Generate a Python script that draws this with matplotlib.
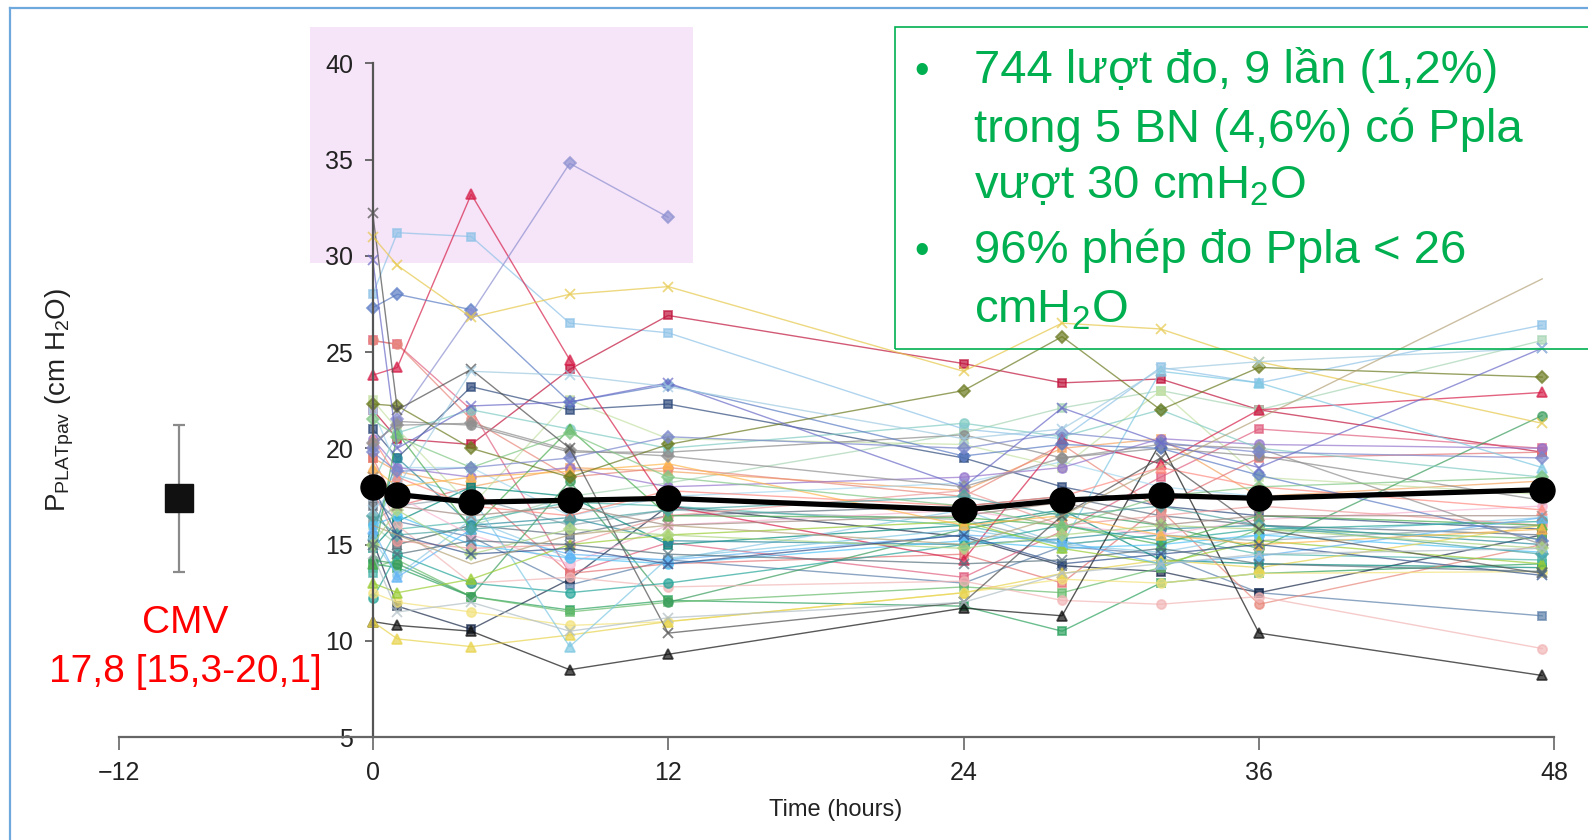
import numpy as np
import matplotlib.pyplot as plt
from matplotlib.patches import Rectangle
from matplotlib.lines import Line2D

plt.rcParams['font.family'] = ['Liberation Sans', 'DejaVu Sans']
plt.rcParams['mathtext.fontset'] = 'custom'
plt.rcParams['mathtext.rm'] = 'Liberation Sans'
plt.rcParams['mathtext.default'] = 'regular'

W, H = 1588, 840

# measurement times (hours) and the mean curve
hours = [0, 1, 4, 8, 12, 24, 28, 32, 36, 47.5]
mean_pplat = [18.0, 17.6, 17.2, 17.3, 17.4, 16.8, 17.3, 17.55, 17.4, 17.85]

# CMV reference point (median and IQR bars)
cmv_x = -7.85
cmv_mid = 17.4
cmv_low = 13.6
cmv_high = 21.2

N = None

# individual patients, grouped by marker shape
squares = [
    [28.0, 31.2, 31.0, 26.5, 26.0, 21.0, 20.5, 24.2, 23.4, 26.4],
    [22.0, 20.5, 20.2, 24.1, 26.9, 24.4, 23.4, 23.6, 22.0, 19.8],
    [21.0, 19.5, 23.2, 22.0, 22.3, 19.5, 18.0, 17.0, 16.5, 15.8],
    [14.0, 13.8, 12.3, 11.6, 12.1, 11.8, 10.5, 13.0, 13.5, 14.0],
    [17.5, 16.2, 15.4, 12.9, 14.2, 13.0, 14.9, 14.5, 12.5, 11.3],
    [15.2, 11.8, 10.6, 13.2, 17.0, 15.4, 13.9, 13.6, 12.5, 15.5],
    [16.0, 15.0, 16.0, 17.5, 18.2, 20.8, 22.1, 23.0, 22.0, 25.6],
    [25.6, 25.4, 22.0, 13.5, 15.1, 13.3, 15.7, 18.5, 21.0, 20.0],
    [19.5, 18.8, 18.0, 19.0, 18.8, 17.8, 20.0, 20.5, 17.5, 18.3],
    [22.0, 19.0, 19.0, 16.5, 17.5, 18.2, 19.3, 18.0, 17.5, 17.8],
    [19.5, 17.0, 18.0, 13.5, 14.0, 14.5, 13.0, 17.0, 19.5, 19.8],
    [17.0, 15.0, 16.0, 15.5, 16.5, 17.0, 17.5, 16.5, 16.0, 15.5],
    [14.8, 16.2, 18.0, 17.5, 15.0, 16.0, 16.8, 14.2, 14.0, 13.8],
    [13.8, 14.2, 12.3, 11.5, 12.0, 12.8, 12.5, 13.8, 15.8, 15.3],
    [16.2, 17.0, 17.5, 16.0, 16.8, 16.3, 15.0, 15.5, 15.2, 16.0],
    [13.5, 15.8, 16.2, 17.2, 17.0, 16.0, 15.0, 15.5, 14.5, 14.2],
    [22.5, 21.0, 17.0, 22.5, 20.5, 20.2, 19.0, 23.0, 18.5, 17.6],
]
square_colors = ['#8fc3e8', '#c0143c', '#2f4b7c', '#2ca25f', '#5b7fa8', '#1a2a4a',
                 '#a8d5b5', '#e06080', '#f4a460', '#a6d8f0', '#e57373', '#5d6d7e',
                 '#00897b', '#66bb6a', '#90a4ae', '#4db6ac', '#c5e1a5']

circles = [
    [25.6, 25.4, 21.5, 18.5, 19.0, 17.5, 20.2, 16.8, 11.9, 15.0],
    [15.3, 13.4, 16.3, 14.3, 14.2, 16.8, 15.0, 14.6, 15.5, 16.4],
    [14.2, 14.0, 12.3, 18.3, 12.0, 15.8, 16.7, 16.0, 14.8, 21.7],
    [15.5, 19.5, 16.0, 16.4, 15.2, 15.0, 15.3, 15.8, 16.0, 15.0],
    [20.1, 21.4, 21.2, 19.8, 19.8, 20.7, 19.5, 20.0, 19.6, 17.3],
    [18.8, 16.0, 13.0, 13.3, 12.8, 13.1, 12.1, 11.9, 12.3, 9.6],
    [18.0, 17.5, 15.5, 14.0, 16.0, 16.8, 16.0, 15.5, 16.3, 17.0],
    [16.0, 16.5, 15.0, 14.3, 14.0, 15.2, 14.8, 15.0, 15.5, 14.6],
    [12.2, 14.5, 13.0, 12.5, 13.0, 15.0, 16.0, 15.2, 15.8, 16.2],
    [12.5, 12.0, 11.5, 10.8, 11.0, 12.5, 13.2, 13.0, 13.5, 13.6],
    [17.8, 15.2, 14.8, 15.0, 16.5, 17.8, 16.0, 16.5, 17.0, 16.0],
    [20.5, 19.0, 18.5, 19.0, 18.0, 18.5, 19.0, 20.5, 20.2, 20.0],
    [18.2, 20.8, 22.0, 21.0, 20.0, 21.3, 20.6, 22.0, 20.0, 18.5],
]
circle_colors = ['#e8877a', '#8ecae6', '#3a9d5d', '#2b8c9e', '#8a8a8a', '#f2b5b5',
                 '#f7b6d2', '#4fc3f7', '#26a69a', '#f3e27a', '#ef9a9a', '#9575cd',
                 '#80cbc4']

triangles = [
    [23.8, 24.2, 33.2, 24.6, 17.0, 14.2, 20.5, 19.2, 22.0, 22.9],
    [11.0, 10.8, 10.5, 8.5, 9.3, 11.7, 11.3, 20.3, 10.4, 8.2],
    [11.0, 10.1, 9.7, 10.3, 11.0, 12.5, 13.5, 14.2, 13.8, 16.0],
    [15.5, 18.6, 17.5, 9.7, 14.3, 15.8, 15.0, 24.0, 23.4, 19.0],
    [14.0, 20.8, 15.8, 21.0, 16.5, 16.4, 16.0, 15.0, 16.5, 16.0],
    [13.0, 12.5, 13.2, 15.0, 15.5, 16.2, 14.8, 14.0, 15.2, 14.0],
    [20.5, 18.5, 17.0, 16.5, 17.8, 17.0, 17.5, 19.0, 18.0, 16.8],
    [15.8, 13.3, 15.8, 14.5, 14.2, 15.5, 15.2, 14.0, 14.4, 16.4],
    [19.0, 18.0, 18.5, 18.8, 19.2, 16.0, 16.5, 15.5, 15.0, 15.8],
]
triangle_colors = ['#d6204a', '#111111', '#e8d44d', '#7ec8e3', '#4caf50', '#9acd32',
                   '#ff8a80', '#64b5f6', '#ffb74d']

diamonds = [
    [27.3, 28.0, 27.2, 22.4, 23.3, 19.6, 20.2, 20.0, 18.6, 15.2],
    [20.0, 21.5, 27.0, 34.8, 32.0, N, N, N, N, N],
    [22.3, 22.2, 20.0, 18.5, 20.2, 23.0, 25.8, 22.0, 24.2, 23.7],
    [20.3, 21.2, 21.3, 19.9, 19.6, 18.0, 19.5, 20.2, 20.0, 15.0],
    [16.5, 15.5, 15.8, 16.2, 16.8, 17.5, 16.5, 17.0, 16.0, 14.5],
    [21.5, 20.6, 19.0, 20.8, 18.5, 17.0, 15.9, 17.5, 18.0, 18.5],
    [19.8, 18.8, 19.0, 19.5, 20.6, 20.0, 20.8, 20.3, 19.8, 19.5],
    [15.0, 16.8, 14.5, 15.8, 15.5, 14.8, 15.5, 16.0, 15.8, 14.8],
]
diamond_colors = ['#5b7cc4', '#8c8fd0', '#6b7a1f', '#909090', '#4ba3a3', '#81c784',
                  '#7986cb', '#aed581']

crosses = [
    [32.2, 22.0, 24.1, 20.0, 10.4, 12.0, 16.5, 19.5, 15.8, 13.5],
    [29.8, 20.0, 22.2, 22.4, 23.4, 18.0, 22.1, 20.3, 19.0, 25.2],
    [31.0, 29.5, 26.8, 28.0, 28.4, 24.0, 26.5, 26.2, 24.5, 21.3],
    [16.8, 18.0, 24.0, 23.8, 23.2, 20.5, 21.0, 24.1, 24.5, 25.2],
    [18.0, 15.5, 14.5, 14.8, 14.0, 15.5, 14.0, 14.5, 15.0, 13.4],
    [14.5, 11.5, 12.0, 10.5, 11.2, 12.0, 13.5, 14.0, 14.5, 14.8],
    [18.5, 17.0, 16.5, 17.0, 16.0, 16.5, 17.2, 16.0, 16.5, 16.5],
    [15.0, 14.5, 15.2, 15.0, 14.5, 14.0, 14.2, 14.8, 14.0, 13.6],
]
cross_colors = ['#4d4d4d', '#6a6ac8', '#e6c84a', '#9ecae1', '#31508a', '#b0bec5',
                '#a1887f', '#546e7a']

plain = [
    [16.0, 15.5, 14.0, 15.5, 16.0, 15.0, 16.5, N, N, 28.8],
]
plain_colors = ['#b5a37a']


def px(x, y):
    return x / W, 1 - y / H


fig = plt.figure(figsize=(W / 100, H / 100), dpi=100)

# blue slide frame
fig.add_artist(Line2D([10 / W, 10 / W], [0, 1 - 8 / H], transform=fig.transFigure,
                      color='#6fa8dc', lw=1.6))
fig.add_artist(Line2D([10 / W, 1], [1 - 8 / H, 1 - 8 / H], transform=fig.transFigure,
                      color='#6fa8dc', lw=1.6))

# pink highlight behind the high values
fig.add_artist(Rectangle(px(310, 263), 383 / W, 236 / H, transform=fig.transFigure,
                         facecolor='#f6e4f8', edgecolor='none', zorder=-1))

ax = fig.add_axes([0.04868, 0.0996, 0.9457, 0.848])
ax.patch.set_visible(False)
ax.set_xlim(-12, 49)
ax.set_ylim(4, 41)


def draw_group(rows, colors, marker, ms):
    for row, c in zip(rows, colors):
        v = np.array([np.nan if a is None else a for a in row], dtype=float)
        ok = ~np.isnan(v)
        ax.plot(np.array(hours)[ok], v[ok], color=c, lw=1.0, alpha=0.7,
                marker=marker, ms=ms, mec=c, mew=1.3, zorder=2)


draw_group(squares, square_colors, 's', 6)
draw_group(circles, circle_colors, 'o', 6.5)
draw_group(triangles, triangle_colors, '^', 6.5)
draw_group(diamonds, diamond_colors, 'D', 6.5)
draw_group(crosses, cross_colors, 'x', 7)
draw_group(plain, plain_colors, '', 0)

ax.plot(hours, mean_pplat, color='black', lw=3.8, marker='o', ms=18, zorder=5)

ax.errorbar([cmv_x], [cmv_mid], yerr=[[cmv_mid - cmv_low], [cmv_high - cmv_mid]],
            fmt='s', ms=20, color='#111111', ecolor='#8a8a8a', elinewidth=1.6,
            capsize=4.5, capthick=1.6, zorder=4)

for s in ['top', 'right']:
    ax.spines[s].set_visible(False)
ax.spines['left'].set_position(('data', 0))
ax.spines['left'].set_bounds(5, 40)
ax.spines['left'].set_color('#555555')
ax.spines['left'].set_linewidth(1.6)
ax.spines['bottom'].set_position(('data', 5))
ax.spines['bottom'].set_bounds(-10.31, 48)
ax.spines['bottom'].set_color('#666666')
ax.spines['bottom'].set_linewidth(1.6)

ax.set_yticks([5, 10, 15, 20, 25, 30, 35, 40])
ax.set_xticks([-10.31, 0, 12, 24, 36, 48])
ax.set_xticklabels(['\u221212', '0', '12', '24', '36', '48'])
ax.tick_params(axis='y', direction='out', length=6, width=1.2, pad=8,
               labelsize=18, color='#555555', labelcolor='#222222')
ax.tick_params(axis='x', direction='out', length=9, width=1.2, pad=8,
               labelsize=18, color='#666666', labelcolor='#222222')

fig.text(*px(836, 810), 'Time (hours)', ha='center', va='center', fontsize=17,
         color='#222222')
fig.text(*px(60, 400), r'P$_{PLATpav}$ (cm H$_2$O)', rotation=90, ha='center',
         va='center', fontsize=20, color='#222222')

# CMV annotation
fig.text(*px(185, 633), 'CMV', ha='center', va='baseline', fontsize=28, color='#ff0000')
fig.text(*px(185, 682), '17,8 [15,3-20,1]', ha='center', va='baseline', fontsize=28,
         color='#ff0000')

# green comment box
fig.add_artist(Rectangle(px(895, 349), 1 - 895 / W + 0.01, 322 / H,
                         transform=fig.transFigure, facecolor='none',
                         edgecolor='#00b050', lw=1.2, zorder=6))
green = '#00b050'
box_lines = [
    ('\u2022', '744 lượt đo, 9 lần (1,2%)', 83),
    ('', 'trong 5 BN (4,6%) có Ppla', 142),
    ('', 'vượt 30 cmH$_2$O', 198),
    ('\u2022', '96% phép đo Ppla < 26', 263),
    ('', 'cmH$_2$O', 322),
]
for bullet, txt, yb in box_lines:
    if bullet:
        fig.text(*px(922, yb), bullet, ha='center', va='baseline', fontsize=30,
                 color=green, zorder=7)
    fig.text(*px(974, yb), txt, ha='left', va='baseline', fontsize=34,
             color=green, zorder=7)

fig.savefig('out.png', dpi=100)
